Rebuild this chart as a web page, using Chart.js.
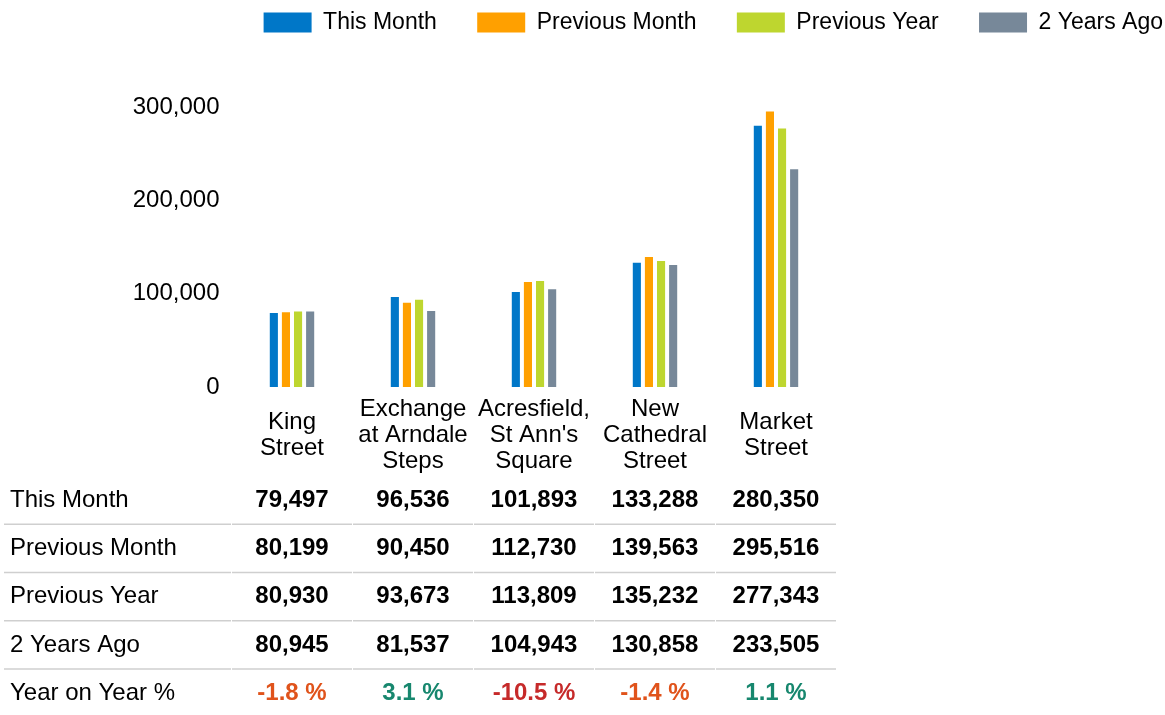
<!DOCTYPE html>
<html>
<head>
<meta charset="utf-8">
<script src="https://cdn.jsdelivr.net/npm/chart.js@4/dist/chart.umd.min.js"></script>
<style>
  body { margin: 0; background: #fff; }
</style>
</head>
<body>
<canvas id="chart" width="1165" height="715"></canvas>
<script>
// data
const streets = [
    ['King', 'Street'],
    ['Exchange', 'at Arndale', 'Steps'],
    ['Acresfield,', "St Ann's", 'Square'],
    ['New', 'Cathedral', 'Street'],
    ['Market', 'Street']
];
const thisMonth = [79497, 96536, 101893, 133288, 280350];
const previousMonth = [80199, 90450, 112730, 139563, 295516];
const previousYear = [80930, 93673, 113809, 135232, 277343];
const twoYearsAgo = [80945, 81537, 104943, 130858, 233505];
const yearOnYear = [-1.8, 3.1, -10.5, -1.4, 1.1];
const yTicks = [0, 100000, 200000, 300000];

const FONT = '"Liberation Sans", Arial, sans-serif';
Chart.defaults.font.family = FONT;
Chart.defaults.font.size = 24;
Chart.defaults.color = '#000';

const fmt = n => n.toLocaleString('en-US');

// table under the chart, columns follow the x scale
const tablePlugin = {
    id: 'footTable',
    afterDraw(chart) {
        const ctx = chart.ctx;
        const x = chart.scales.x;
        const rows = [
            ['This Month', thisMonth],
            ['Previous Month', previousMonth],
            ['Previous Year', previousYear],
            ['2 Years Ago', twoYearsAgo]
        ];
        const rowTop = 500, rowStep = 48.3;
        const half = (x.getPixelForValue(1) - x.getPixelForValue(0)) / 2;
        ctx.save();
        ctx.textBaseline = 'middle';

        // separators
        ctx.strokeStyle = '#cfcfcf';
        ctx.lineWidth = 1.5;
        for (let r = 0; r < 4; r++) {
            const ly = rowTop + rowStep * r + rowStep / 2;
            ctx.beginPath();
            ctx.moveTo(4, ly);
            ctx.lineTo(x.left - 0.5, ly);
            for (let i = 0; i < streets.length; i++) {
                const cx = x.getPixelForValue(i);
                ctx.moveTo(cx - half + 0.5, ly);
                ctx.lineTo(cx + half - 0.5, ly);
            }
            ctx.stroke();
        }

        rows.forEach((row, r) => {
            const y = rowTop + rowStep * r;
            ctx.fillStyle = '#000';
            ctx.font = '24px ' + FONT;
            ctx.textAlign = 'left';
            ctx.fillText(row[0], 10, y);
            ctx.font = 'bold 24px ' + FONT;
            ctx.textAlign = 'center';
            row[1].forEach((v, i) => ctx.fillText(fmt(v), x.getPixelForValue(i), y));
        });

        const y = rowTop + rowStep * 4;
        ctx.font = '24px ' + FONT;
        ctx.textAlign = 'left';
        ctx.fillStyle = '#000';
        ctx.fillText('Year on Year %', 10, y);
        ctx.font = 'bold 24px ' + FONT;
        ctx.textAlign = 'center';
        yearOnYear.forEach((v, i) => {
            ctx.fillStyle = v < -5 ? '#c62a2a' : v < 0 ? '#e0531b' : '#17876e';
            ctx.fillText(v.toFixed(1) + ' %', x.getPixelForValue(i), y);
        });
        ctx.restore();
    }
};

const bar = (label, data, color) => ({
    label, data,
    backgroundColor: color,
    categoryPercentage: 0.4,
    barPercentage: 0.67
});

new Chart(document.getElementById('chart'), {
    type: 'bar',
    data: {
        labels: streets,
        datasets: [
            bar('This Month', thisMonth, '#0077c8'),
            bar('Previous Month', previousMonth, '#ffa000'),
            bar('Previous Year', previousYear, '#bed62f'),
            bar('2 Years Ago', twoYearsAgo, '#778899')
        ]
    },
    options: {
        responsive: false,
        animation: false,
        layout: { padding: { top: 9 } },
        plugins: {
            tooltip: { enabled: false },
            legend: {
                align: 'end',
                labels: {
                    boxWidth: 48,
                    boxHeight: 20,
                    padding: 2,
                    color: '#000',
                    font: { size: 23 },
                    generateLabels(chart) {
                        const items = Chart.defaults.plugins.legend.labels.generateLabels(chart);
                        items.forEach((it, i) => {
                            it.lineWidth = 0;
                            if (i < items.length - 1) it.text += '      ';
                        });
                        return items;
                    }
                }
            }
        },
        scales: {
            x: {
                grid: { display: false },
                border: { display: false },
                ticks: {
                    autoSkip: false,
                    maxRotation: 0,
                    crossAlign: 'center',
                    padding: 14,
                    font: { size: 24, lineHeight: 1.1 }
                },
                afterFit(s) { s.height = 328; }
            },
            y: {
                min: 0,
                max: 368000,
                grid: { display: false, drawTicks: false },
                border: { display: false },
                afterBuildTicks(s) { s.ticks = yTicks.map(v => ({ value: v })); },
                ticks: {
                    padding: 12,
                    callback: v => fmt(v)
                },
                afterFit(s) { s.width = 231.5; }
            },
            spacer: {
                position: 'right',
                display: true,
                grid: { display: false },
                border: { display: false },
                ticks: { display: false },
                afterFit(s) { s.width = 328.5; }
            }
        }
    },
    plugins: [tablePlugin]
});
</script>
</body>
</html>
